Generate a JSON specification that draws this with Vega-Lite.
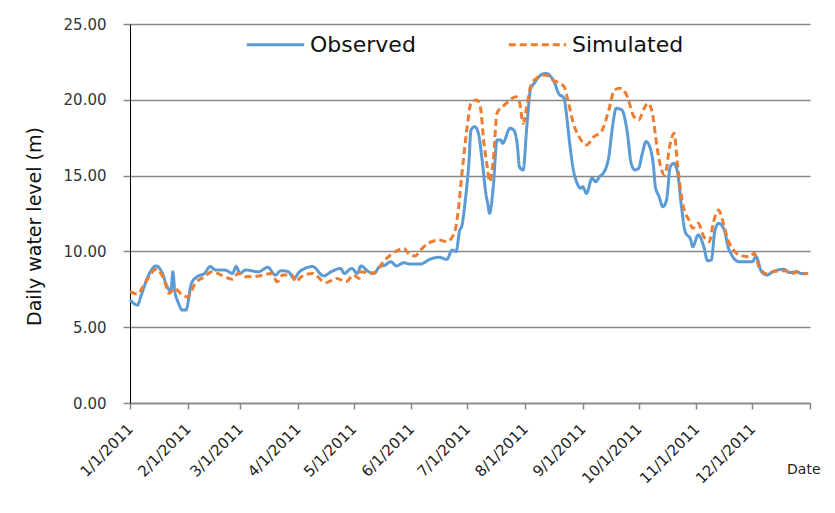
{
  "$schema": "https://vega.github.io/schema/vega-lite/v6.json",
  "width": 680,
  "height": 379,
  "autosize": {"type": "none"},
  "padding": {"left": 130, "top": 24, "right": 25, "bottom": 110},
  "background": "white",
  "config": {"font": "DejaVu Sans", "view": {"stroke": null}},
  "data": {
    "values": [
      {"date": "2011-01-01", "series": "Observed", "level": 6.8},
      {"date": "2011-01-05", "series": "Observed", "level": 6.46},
      {"date": "2011-01-07", "series": "Observed", "level": 7.1},
      {"date": "2011-01-11", "series": "Observed", "level": 8.44},
      {"date": "2011-01-15", "series": "Observed", "level": 9.04},
      {"date": "2011-01-18", "series": "Observed", "level": 8.66},
      {"date": "2011-01-21", "series": "Observed", "level": 7.67},
      {"date": "2011-01-23", "series": "Observed", "level": 7.34},
      {"date": "2011-01-24", "series": "Observed", "level": 8.66},
      {"date": "2011-01-25", "series": "Observed", "level": 7.45},
      {"date": "2011-01-27", "series": "Observed", "level": 6.6},
      {"date": "2011-01-29", "series": "Observed", "level": 6.13},
      {"date": "2011-01-31", "series": "Observed", "level": 6.13},
      {"date": "2011-02-03", "series": "Observed", "level": 7.9},
      {"date": "2011-02-06", "series": "Observed", "level": 8.33},
      {"date": "2011-02-10", "series": "Observed", "level": 8.55},
      {"date": "2011-02-13", "series": "Observed", "level": 9.0},
      {"date": "2011-02-16", "series": "Observed", "level": 8.77},
      {"date": "2011-02-21", "series": "Observed", "level": 8.77},
      {"date": "2011-02-25", "series": "Observed", "level": 8.55},
      {"date": "2011-02-27", "series": "Observed", "level": 9.0},
      {"date": "2011-03-01", "series": "Observed", "level": 8.55},
      {"date": "2011-03-04", "series": "Observed", "level": 8.77},
      {"date": "2011-03-11", "series": "Observed", "level": 8.66},
      {"date": "2011-03-16", "series": "Observed", "level": 8.95},
      {"date": "2011-03-20", "series": "Observed", "level": 8.44},
      {"date": "2011-03-23", "series": "Observed", "level": 8.73},
      {"date": "2011-03-27", "series": "Observed", "level": 8.66},
      {"date": "2011-03-30", "series": "Observed", "level": 8.22},
      {"date": "2011-04-02", "series": "Observed", "level": 8.66},
      {"date": "2011-04-09", "series": "Observed", "level": 9.0},
      {"date": "2011-04-15", "series": "Observed", "level": 8.38},
      {"date": "2011-04-19", "series": "Observed", "level": 8.66},
      {"date": "2011-04-24", "series": "Observed", "level": 8.88},
      {"date": "2011-04-26", "series": "Observed", "level": 8.55},
      {"date": "2011-04-30", "series": "Observed", "level": 8.88},
      {"date": "2011-05-03", "series": "Observed", "level": 8.55},
      {"date": "2011-05-05", "series": "Observed", "level": 9.04},
      {"date": "2011-05-09", "series": "Observed", "level": 8.66},
      {"date": "2011-05-12", "series": "Observed", "level": 8.55},
      {"date": "2011-05-15", "series": "Observed", "level": 9.0},
      {"date": "2011-05-18", "series": "Observed", "level": 9.1},
      {"date": "2011-05-21", "series": "Observed", "level": 9.32},
      {"date": "2011-05-24", "series": "Observed", "level": 9.04},
      {"date": "2011-05-28", "series": "Observed", "level": 9.25},
      {"date": "2011-05-31", "series": "Observed", "level": 9.17},
      {"date": "2011-06-06", "series": "Observed", "level": 9.17},
      {"date": "2011-06-11", "series": "Observed", "level": 9.48},
      {"date": "2011-06-16", "series": "Observed", "level": 9.61},
      {"date": "2011-06-20", "series": "Observed", "level": 9.48},
      {"date": "2011-06-23", "series": "Observed", "level": 10.09},
      {"date": "2011-06-25", "series": "Observed", "level": 9.98},
      {"date": "2011-06-27", "series": "Observed", "level": 11.41},
      {"date": "2011-06-28", "series": "Observed", "level": 11.63},
      {"date": "2011-06-30", "series": "Observed", "level": 13.39},
      {"date": "2011-07-02", "series": "Observed", "level": 16.03},
      {"date": "2011-07-03", "series": "Observed", "level": 18.0},
      {"date": "2011-07-05", "series": "Observed", "level": 18.23},
      {"date": "2011-07-07", "series": "Observed", "level": 17.79},
      {"date": "2011-07-09", "series": "Observed", "level": 16.03},
      {"date": "2011-07-11", "series": "Observed", "level": 13.83},
      {"date": "2011-07-12", "series": "Observed", "level": 13.17},
      {"date": "2011-07-13", "series": "Observed", "level": 12.51},
      {"date": "2011-07-15", "series": "Observed", "level": 14.27},
      {"date": "2011-07-17", "series": "Observed", "level": 17.35},
      {"date": "2011-07-19", "series": "Observed", "level": 17.35},
      {"date": "2011-07-20", "series": "Observed", "level": 17.13},
      {"date": "2011-07-24", "series": "Observed", "level": 18.12},
      {"date": "2011-07-26", "series": "Observed", "level": 18.0},
      {"date": "2011-07-28", "series": "Observed", "level": 16.91},
      {"date": "2011-07-29", "series": "Observed", "level": 15.59},
      {"date": "2011-07-31", "series": "Observed", "level": 15.37},
      {"date": "2011-08-02", "series": "Observed", "level": 18.23},
      {"date": "2011-08-04", "series": "Observed", "level": 20.7},
      {"date": "2011-08-06", "series": "Observed", "level": 21.1},
      {"date": "2011-08-08", "series": "Observed", "level": 21.45},
      {"date": "2011-08-12", "series": "Observed", "level": 21.75},
      {"date": "2011-08-14", "series": "Observed", "level": 21.64},
      {"date": "2011-08-17", "series": "Observed", "level": 21.09},
      {"date": "2011-08-19", "series": "Observed", "level": 20.43},
      {"date": "2011-08-22", "series": "Observed", "level": 20.1},
      {"date": "2011-08-23", "series": "Observed", "level": 19.33},
      {"date": "2011-08-25", "series": "Observed", "level": 17.13},
      {"date": "2011-08-27", "series": "Observed", "level": 15.37},
      {"date": "2011-08-29", "series": "Observed", "level": 14.49},
      {"date": "2011-08-31", "series": "Observed", "level": 14.16},
      {"date": "2011-09-01", "series": "Observed", "level": 14.27},
      {"date": "2011-09-03", "series": "Observed", "level": 13.83},
      {"date": "2011-09-06", "series": "Observed", "level": 14.82},
      {"date": "2011-09-08", "series": "Observed", "level": 14.6},
      {"date": "2011-09-10", "series": "Observed", "level": 14.93},
      {"date": "2011-09-12", "series": "Observed", "level": 15.15},
      {"date": "2011-09-15", "series": "Observed", "level": 16.25},
      {"date": "2011-09-17", "series": "Observed", "level": 18.23},
      {"date": "2011-09-19", "series": "Observed", "level": 19.44},
      {"date": "2011-09-22", "series": "Observed", "level": 19.33},
      {"date": "2011-09-25", "series": "Observed", "level": 17.79},
      {"date": "2011-09-27", "series": "Observed", "level": 15.81},
      {"date": "2011-09-29", "series": "Observed", "level": 15.37},
      {"date": "2011-10-01", "series": "Observed", "level": 15.48},
      {"date": "2011-10-03", "series": "Observed", "level": 16.47},
      {"date": "2011-10-05", "series": "Observed", "level": 17.24},
      {"date": "2011-10-07", "series": "Observed", "level": 16.9},
      {"date": "2011-10-09", "series": "Observed", "level": 15.6},
      {"date": "2011-10-10", "series": "Observed", "level": 14.27},
      {"date": "2011-10-12", "series": "Observed", "level": 13.61},
      {"date": "2011-10-14", "series": "Observed", "level": 12.95},
      {"date": "2011-10-16", "series": "Observed", "level": 13.39},
      {"date": "2011-10-18", "series": "Observed", "level": 15.59},
      {"date": "2011-10-20", "series": "Observed", "level": 15.81},
      {"date": "2011-10-22", "series": "Observed", "level": 15.15},
      {"date": "2011-10-24", "series": "Observed", "level": 12.95},
      {"date": "2011-10-26", "series": "Observed", "level": 11.3},
      {"date": "2011-10-29", "series": "Observed", "level": 10.75},
      {"date": "2011-10-30", "series": "Observed", "level": 10.31},
      {"date": "2011-11-02", "series": "Observed", "level": 11.08},
      {"date": "2011-11-05", "series": "Observed", "level": 10.31},
      {"date": "2011-11-07", "series": "Observed", "level": 9.39},
      {"date": "2011-11-09", "series": "Observed", "level": 9.43},
      {"date": "2011-11-11", "series": "Observed", "level": 11.41},
      {"date": "2011-11-13", "series": "Observed", "level": 11.85},
      {"date": "2011-11-16", "series": "Observed", "level": 11.41},
      {"date": "2011-11-18", "series": "Observed", "level": 10.31},
      {"date": "2011-11-20", "series": "Observed", "level": 9.76},
      {"date": "2011-11-24", "series": "Observed", "level": 9.32},
      {"date": "2011-12-01", "series": "Observed", "level": 9.32},
      {"date": "2011-12-03", "series": "Observed", "level": 9.65},
      {"date": "2011-12-06", "series": "Observed", "level": 8.66},
      {"date": "2011-12-09", "series": "Observed", "level": 8.44},
      {"date": "2011-12-12", "series": "Observed", "level": 8.66},
      {"date": "2011-12-18", "series": "Observed", "level": 8.82},
      {"date": "2011-12-21", "series": "Observed", "level": 8.6},
      {"date": "2011-12-25", "series": "Observed", "level": 8.66},
      {"date": "2011-12-27", "series": "Observed", "level": 8.55},
      {"date": "2011-12-31", "series": "Observed", "level": 8.55},

      {"date": "2011-01-01", "series": "Simulated", "level": 7.34},
      {"date": "2011-01-05", "series": "Simulated", "level": 7.19},
      {"date": "2011-01-09", "series": "Simulated", "level": 7.9},
      {"date": "2011-01-15", "series": "Simulated", "level": 8.82},
      {"date": "2011-01-19", "series": "Simulated", "level": 8.22},
      {"date": "2011-01-22", "series": "Simulated", "level": 7.23},
      {"date": "2011-01-25", "series": "Simulated", "level": 7.56},
      {"date": "2011-01-29", "series": "Simulated", "level": 7.12},
      {"date": "2011-02-01", "series": "Simulated", "level": 7.01},
      {"date": "2011-02-05", "series": "Simulated", "level": 7.9},
      {"date": "2011-02-10", "series": "Simulated", "level": 8.33},
      {"date": "2011-02-14", "series": "Simulated", "level": 8.66},
      {"date": "2011-02-19", "series": "Simulated", "level": 8.44},
      {"date": "2011-02-25", "series": "Simulated", "level": 8.16},
      {"date": "2011-02-28", "series": "Simulated", "level": 8.55},
      {"date": "2011-03-04", "series": "Simulated", "level": 8.33},
      {"date": "2011-03-11", "series": "Simulated", "level": 8.38},
      {"date": "2011-03-18", "series": "Simulated", "level": 8.55},
      {"date": "2011-03-21", "series": "Simulated", "level": 8.0},
      {"date": "2011-03-24", "series": "Simulated", "level": 8.44},
      {"date": "2011-03-29", "series": "Simulated", "level": 8.44},
      {"date": "2011-03-31", "series": "Simulated", "level": 8.0},
      {"date": "2011-04-03", "series": "Simulated", "level": 8.33},
      {"date": "2011-04-09", "series": "Simulated", "level": 8.55},
      {"date": "2011-04-16", "series": "Simulated", "level": 7.94},
      {"date": "2011-04-22", "series": "Simulated", "level": 8.22},
      {"date": "2011-04-27", "series": "Simulated", "level": 8.0},
      {"date": "2011-05-01", "series": "Simulated", "level": 8.44},
      {"date": "2011-05-04", "series": "Simulated", "level": 8.22},
      {"date": "2011-05-05", "series": "Simulated", "level": 8.66},
      {"date": "2011-05-10", "series": "Simulated", "level": 8.55},
      {"date": "2011-05-13", "series": "Simulated", "level": 8.66},
      {"date": "2011-05-17", "series": "Simulated", "level": 9.32},
      {"date": "2011-05-22", "series": "Simulated", "level": 9.87},
      {"date": "2011-05-25", "series": "Simulated", "level": 10.09},
      {"date": "2011-05-28", "series": "Simulated", "level": 10.2},
      {"date": "2011-05-31", "series": "Simulated", "level": 9.8},
      {"date": "2011-06-03", "series": "Simulated", "level": 9.7},
      {"date": "2011-06-06", "series": "Simulated", "level": 10.09},
      {"date": "2011-06-10", "series": "Simulated", "level": 10.53},
      {"date": "2011-06-16", "series": "Simulated", "level": 10.75},
      {"date": "2011-06-20", "series": "Simulated", "level": 10.64},
      {"date": "2011-06-24", "series": "Simulated", "level": 11.19},
      {"date": "2011-06-26", "series": "Simulated", "level": 12.51},
      {"date": "2011-06-28", "series": "Simulated", "level": 14.93},
      {"date": "2011-07-01", "series": "Simulated", "level": 18.23},
      {"date": "2011-07-03", "series": "Simulated", "level": 19.77},
      {"date": "2011-07-06", "series": "Simulated", "level": 19.99},
      {"date": "2011-07-08", "series": "Simulated", "level": 19.55},
      {"date": "2011-07-10", "series": "Simulated", "level": 17.13},
      {"date": "2011-07-12", "series": "Simulated", "level": 15.37},
      {"date": "2011-07-13", "series": "Simulated", "level": 14.6},
      {"date": "2011-07-15", "series": "Simulated", "level": 16.03},
      {"date": "2011-07-17", "series": "Simulated", "level": 19.11},
      {"date": "2011-07-20", "series": "Simulated", "level": 19.55},
      {"date": "2011-07-23", "series": "Simulated", "level": 19.87},
      {"date": "2011-07-27", "series": "Simulated", "level": 20.2},
      {"date": "2011-07-29", "series": "Simulated", "level": 19.87},
      {"date": "2011-07-31", "series": "Simulated", "level": 18.45},
      {"date": "2011-08-02", "series": "Simulated", "level": 19.55},
      {"date": "2011-08-04", "series": "Simulated", "level": 20.87},
      {"date": "2011-08-07", "series": "Simulated", "level": 21.4},
      {"date": "2011-08-12", "series": "Simulated", "level": 21.64},
      {"date": "2011-08-16", "series": "Simulated", "level": 21.31},
      {"date": "2011-08-22", "series": "Simulated", "level": 20.87},
      {"date": "2011-08-24", "series": "Simulated", "level": 19.99},
      {"date": "2011-08-27", "series": "Simulated", "level": 18.45},
      {"date": "2011-08-30", "series": "Simulated", "level": 17.57},
      {"date": "2011-09-03", "series": "Simulated", "level": 17.02},
      {"date": "2011-09-07", "series": "Simulated", "level": 17.57},
      {"date": "2011-09-11", "series": "Simulated", "level": 17.9},
      {"date": "2011-09-15", "series": "Simulated", "level": 19.33},
      {"date": "2011-09-18", "series": "Simulated", "level": 20.65},
      {"date": "2011-09-21", "series": "Simulated", "level": 20.76},
      {"date": "2011-09-25", "series": "Simulated", "level": 20.2},
      {"date": "2011-09-28", "series": "Simulated", "level": 19.0},
      {"date": "2011-10-01", "series": "Simulated", "level": 18.67},
      {"date": "2011-10-04", "series": "Simulated", "level": 19.44},
      {"date": "2011-10-06", "series": "Simulated", "level": 19.77},
      {"date": "2011-10-08", "series": "Simulated", "level": 19.33},
      {"date": "2011-10-11", "series": "Simulated", "level": 16.8},
      {"date": "2011-10-13", "series": "Simulated", "level": 15.5},
      {"date": "2011-10-15", "series": "Simulated", "level": 15.04},
      {"date": "2011-10-18", "series": "Simulated", "level": 17.13},
      {"date": "2011-10-20", "series": "Simulated", "level": 17.79},
      {"date": "2011-10-22", "series": "Simulated", "level": 15.59},
      {"date": "2011-10-25", "series": "Simulated", "level": 12.95},
      {"date": "2011-10-28", "series": "Simulated", "level": 12.07},
      {"date": "2011-10-30", "series": "Simulated", "level": 11.52},
      {"date": "2011-11-02", "series": "Simulated", "level": 11.85},
      {"date": "2011-11-05", "series": "Simulated", "level": 10.97},
      {"date": "2011-11-08", "series": "Simulated", "level": 10.64},
      {"date": "2011-11-10", "series": "Simulated", "level": 11.85},
      {"date": "2011-11-13", "series": "Simulated", "level": 12.73},
      {"date": "2011-11-15", "series": "Simulated", "level": 12.07},
      {"date": "2011-11-18", "series": "Simulated", "level": 10.75},
      {"date": "2011-11-21", "series": "Simulated", "level": 10.09},
      {"date": "2011-11-24", "series": "Simulated", "level": 9.76},
      {"date": "2011-11-30", "series": "Simulated", "level": 9.65},
      {"date": "2011-12-02", "series": "Simulated", "level": 9.87},
      {"date": "2011-12-05", "series": "Simulated", "level": 8.88},
      {"date": "2011-12-09", "series": "Simulated", "level": 8.51},
      {"date": "2011-12-12", "series": "Simulated", "level": 8.66},
      {"date": "2011-12-18", "series": "Simulated", "level": 8.73},
      {"date": "2011-12-23", "series": "Simulated", "level": 8.55},
      {"date": "2011-12-25", "series": "Simulated", "level": 8.66},
      {"date": "2011-12-28", "series": "Simulated", "level": 8.51},
      {"date": "2011-12-31", "series": "Simulated", "level": 8.55}
    ]
  },
  "mark": {"type": "line", "strokeWidth": 3, "interpolate": "monotone"},
  "encoding": {
    "x": {
      "field": "date",
      "type": "temporal",
      "scale": {
        "type": "utc",
        "domain": [
          {"year": 2011, "month": 1, "date": 1, "utc": true},
          {"year": 2012, "month": 1, "date": 1, "utc": true}
        ]
      },
      "axis": {
        "values": [
          {"year": 2011, "month": 1, "date": 1, "utc": true},
          {"year": 2011, "month": 2, "date": 1, "utc": true},
          {"year": 2011, "month": 3, "date": 1, "utc": true},
          {"year": 2011, "month": 4, "date": 1, "utc": true},
          {"year": 2011, "month": 5, "date": 1, "utc": true},
          {"year": 2011, "month": 6, "date": 1, "utc": true},
          {"year": 2011, "month": 7, "date": 1, "utc": true},
          {"year": 2011, "month": 8, "date": 1, "utc": true},
          {"year": 2011, "month": 9, "date": 1, "utc": true},
          {"year": 2011, "month": 10, "date": 1, "utc": true},
          {"year": 2011, "month": 11, "date": 1, "utc": true},
          {"year": 2011, "month": 12, "date": 1, "utc": true},
          {"year": 2012, "month": 1, "date": 1, "utc": true}
        ],
        "labelExpr": "utcyear(datum.value) > 2011 ? '' : utcFormat(datum.value, '%-m/%-d/%Y')",
        "grid": false,
        "domainColor": "#878787",
        "domainWidth": 1.5,
        "tickColor": "#878787",
        "tickWidth": 1.5,
        "tickSize": 6,
        "labelAngle": -45,
        "labelAlign": "right",
        "labelBaseline": "middle",
        "labelPadding": 17,
        "labelFontSize": 15,
        "labelColor": "#222222",
        "labelOverlap": false,
        "labelBound": false,
        "title": "Date",
        "titleX": 690,
        "titleY": 70,
        "titleAlign": "right",
        "titleBaseline": "alphabetic",
        "titleFontSize": 14,
        "titleFontWeight": "normal",
        "titleColor": "#222222"
      }
    },
    "y": {
      "field": "level",
      "type": "quantitative",
      "scale": {"domain": [0, 25], "nice": false, "zero": true},
      "axis": {
        "values": [0, 5, 10, 15, 20, 25],
        "format": ".2f",
        "grid": true,
        "gridColor": "#878787",
        "gridWidth": 1.5,
        "domainColor": "#000000",
        "domainWidth": 1,
        "tickColor": "#878787",
        "tickWidth": 1.5,
        "tickSize": 7,
        "labelPadding": 17,
        "labelFontSize": 15,
        "labelColor": "#333333",
        "title": "Daily water level (m)",
        "titleFontSize": 19,
        "titleFontWeight": "normal",
        "titleColor": "#111111",
        "titlePadding": 19,
        "titleY": 202
      }
    },
    "color": {
      "field": "series",
      "type": "nominal",
      "scale": {"domain": ["Observed", "Simulated"], "range": ["#5B9BD5", "#ED7D31"]},
      "legend": {
        "title": null,
        "orient": "none",
        "legendX": 115,
        "legendY": -10,
        "direction": "horizontal",
        "symbolType": "stroke",
        "symbolSize": 3300,
        "symbolStrokeWidth": 3,
        "labelFontSize": 22,
        "labelColor": "#111111",
        "labelOffset": 4,
        "columnPadding": 86
      }
    },
    "strokeDash": {
      "field": "series",
      "type": "nominal",
      "scale": {"domain": ["Observed", "Simulated"], "range": [[1, 0], [7, 4]]}
    }
  }
}
